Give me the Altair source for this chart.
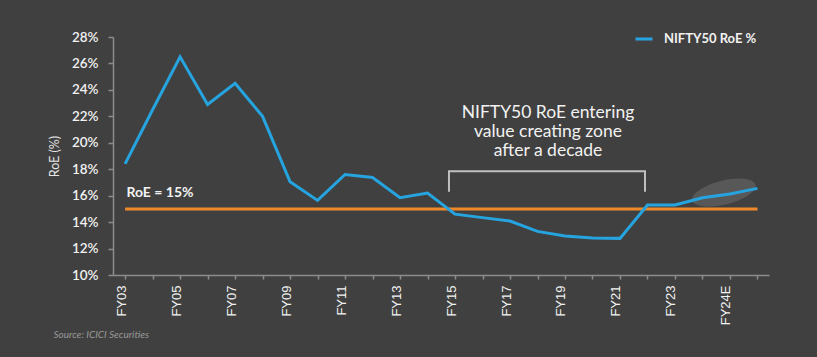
import altair as alt
import pandas as pd

# ---- data ----
fy_index = list(range(24))
roe_pct = [18.4, 22.5, 26.5, 22.9, 24.5, 22.0, 17.05, 15.64, 17.6, 17.38, 15.84, 16.2,
           14.6, 14.34, 14.08, 13.3, 12.95, 12.8, 12.77, 15.29, 15.29, 15.84, 16.12, 16.55]
tick_labels = ["FY03", "FY05", "FY07", "FY09", "FY11", "FY13", "FY15", "FY17",
               "FY19", "FY21", "FY23", "FY24E"]
y_ticks = [10, 12, 14, 16, 18, 20, 22, 24, 26, 28]
series_name = "NIFTY50 RoE %"
threshold = 15
threshold_span = [0, 23]

annot_text = ["NIFTY50 RoE entering", "value creating zone", "after a decade"]
annot_pos = [15.38, 21.86]
bracket_x = [11.78, 11.78, 18.91, 18.91]
bracket_y = [16.29, 17.85, 17.85, 16.29]
threshold_label = "RoE = 15%"
threshold_label_pos = [0.05, 15.91]
ellipse_pos = [21.78, 16.23]

BG = "#404040"
BLUE = "#26a4e0"
ORANGE = "#f0892a"
AXIS = "#8c8c8c"
FONT = "Lato"

df = pd.DataFrame({"i": fy_index, "roe": roe_pct, "series": [series_name] * len(fy_index)})

xscale = alt.Scale(domain=[-0.44, 23.42], nice=False, zero=False)
yscale = alt.Scale(domain=[10, 28], nice=False, zero=False)

label_arr = "[" + ",".join("'" + t + "'" for t in tick_labels) + "]"

x_axis = alt.Axis(values=fy_index, tickCount=len(fy_index), title=None, grid=False,
                  labelOverlap=False,
                  labelExpr=f"datum.value % 2 == 0 ? {label_arr}[datum.value / 2] : ''",
                  labelAngle=270, labelFont="Liberation Sans", labelFontSize=13,
                  labelColor="#f2f2f2", labelPadding=6, tickSize=4, labelOffset=-4,
                  domainColor=AXIS, tickColor=AXIS, domainWidth=1.5, tickWidth=1.5)
y_axis = alt.Axis(values=y_ticks, tickCount=len(y_ticks), title="RoE (%)", grid=False,
                  labelOverlap=False, labelFlush=False,
                  labelExpr="datum.value + '%'", labelFont=FONT, labelFontSize=13.5,
                  labelFontWeight=600,
                  labelColor="#f2f2f2", labelPadding=10, tickSize=5,
                  titleFont=FONT, titleFontSize=12.5, titleColor="#e6e6e6",
                  titleFontWeight="normal", titlePadding=10,
                  domainColor=AXIS, tickColor=AXIS, domainWidth=1.5, tickWidth=1.5)

base = alt.Chart(df)

ellipse = alt.Chart(pd.DataFrame({"x": [ellipse_pos[0]], "y": [ellipse_pos[1]]})).mark_point(
    shape="M -1 0 A 1 0.37 0 1 1 1 0 A 1 0.37 0 1 1 -1 0 Z",
    filled=True, fill="#ffffff", opacity=0.13, strokeWidth=0, size=4225
).encode(x=alt.X("x:Q", scale=xscale, axis=x_axis), y=alt.Y("y:Q", scale=yscale, axis=y_axis),
         angle=alt.value(346))

thr = alt.Chart(pd.DataFrame({"x": [threshold_span[0]], "x2": [threshold_span[1]], "y": [threshold]})).mark_rule(
    color=ORANGE, strokeWidth=3
).encode(x="x:Q", x2="x2:Q", y="y:Q")

line = base.mark_line(strokeWidth=3, strokeJoin="miter").encode(
    x=alt.X("i:Q", scale=xscale, axis=x_axis),
    y=alt.Y("roe:Q", scale=yscale, axis=y_axis),
    color=alt.Color("series:N", scale=alt.Scale(domain=[series_name], range=[BLUE]),
                    legend=alt.Legend(title=None, orient="none", legendX=521, legendY=-8,
                                      symbolType="stroke", symbolSize=289, symbolStrokeWidth=3,
                                      labelFont=FONT, labelFontSize=13, labelColor="#f2f2f2",
                                      labelFontWeight="bold", labelOffset=10, padding=0))
)

thr_text = alt.Chart(pd.DataFrame({"x": [threshold_label_pos[0]], "y": [threshold_label_pos[1]],
                                   "t": [threshold_label]})).mark_text(
    align="left", baseline="alphabetic", font=FONT, fontSize=14, fontWeight="bold", color="#f2f2f2"
).encode(x="x:Q", y="y:Q", text="t:N")

bracket = alt.Chart(pd.DataFrame({"x": bracket_x, "y": bracket_y, "o": [0, 1, 2, 3]})).mark_line(
    color="#bfbfbf", strokeWidth=2, strokeJoin="miter", strokeCap="butt"
).encode(x="x:Q", y="y:Q", order="o:Q")

annot = alt.Chart(pd.DataFrame({"x": [annot_pos[0]], "y": [annot_pos[1]]})).mark_text(
    text=annot_text, align="center", baseline="alphabetic", font=FONT, fontSize=17.5,
    lineHeight=19, color="#f2f2f2"
).encode(x="x:Q", y="y:Q")

chart = alt.layer(ellipse, thr, line, thr_text, bracket, annot).properties(
    width=656, height=238,
    autosize=alt.AutoSizeParams(type="none"),
    padding={"left": 113, "top": 37, "right": 48, "bottom": 82},
    background=BG,
    title=alt.TitleParams("Source: ICICI Securities", orient="bottom", anchor="start",
                          font=FONT, fontSize=10, fontStyle="italic", fontWeight="normal",
                          color="#9a9a9a", dx=5, offset=5)
).configure_view(stroke=None)

chart.save("out.html", embed_options={"renderer": "svg", "actions": False})
